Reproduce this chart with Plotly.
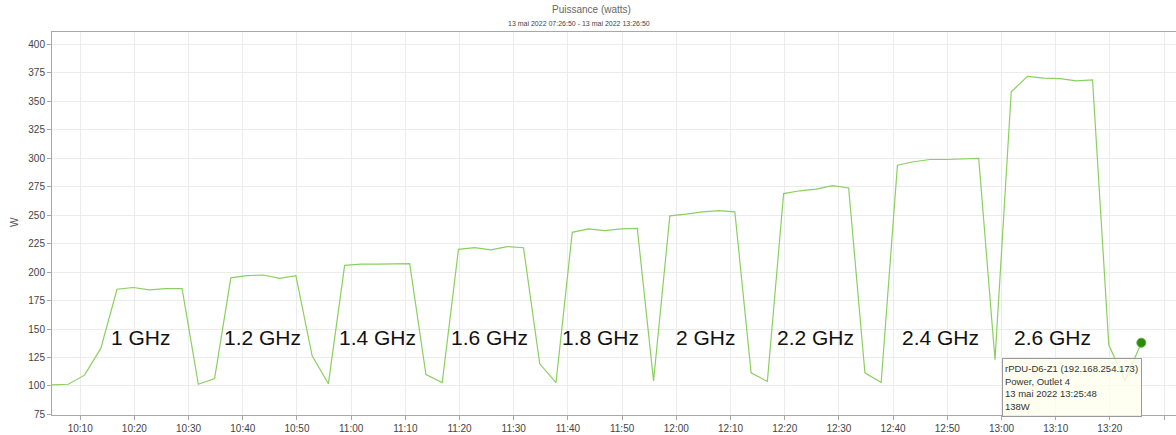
import pandas as pd
import plotly.graph_objects as go

# ---------------- data ----------------
start_time = "2022-05-13 10:04:48"
sample_step = "3min"
power_w = [
    101, 101.5, 109.5, 133, 185, 186.5, 184.5, 185.5, 185.5, 101.5,
    106.5, 195, 197, 197.5, 194.5, 197, 126.5, 102, 206, 207,
    207, 207, 207.5, 110, 103, 220, 221.5, 219.5, 222.5, 221.5,
    119.5, 103, 235, 238, 236.5, 238, 238.5, 104.5, 249.5, 251,
    253, 254, 253, 111.5, 104, 269, 271.5, 273, 276, 274,
    111.5, 103, 294, 297, 299, 299, 299.5, 300, 123, 358.5,
    372, 370.5, 370, 368, 369, 136, 104.5, 138,
]
times = pd.date_range(start_time, periods=len(power_w), freq=sample_step)

freq_labels = ["1 GHz", "1.2 GHz", "1.4 GHz", "1.6 GHz", "1.8 GHz",
               "2 GHz", "2.2 GHz", "2.4 GHz", "2.6 GHz"]
label_times = ["2022-05-13 10:21:10", "2022-05-13 10:43:40", "2022-05-13 11:04:50",
               "2022-05-13 11:25:30", "2022-05-13 11:46:00", "2022-05-13 12:05:30",
               "2022-05-13 12:25:40", "2022-05-13 12:48:40", "2022-05-13 13:09:20"]
label_level = 143

title = "Puissance (watts)"
subtitle = "13 mai 2022 07:26:50 - 13 mai 2022 13:26:50"
tooltip_lines = ["rPDU-D6-Z1 (192.168.254.173)", "Power, Outlet 4",
                 "13 mai 2022 13:25:48", "138W"]

# ---------------- figure ----------------
W, H = 1176, 435
ML, MR, MT, MB = 52, 0, 32, 20
pw, ph = W - ML - MR, H - MT - MB

def px_x(px):
    return (px - ML) / pw

def px_y(py):
    return (H - MB - py) / ph

fig = go.Figure()
fig.add_trace(go.Scatter(
    x=times, y=power_w, mode="lines",
    line=dict(color="#8ad05f", width=1.2),
    hoverinfo="skip", showlegend=False,
))
fig.add_trace(go.Scatter(
    x=[times[-1]], y=[power_w[-1]], mode="markers",
    marker=dict(color="#2b8a0c", size=9, line=dict(color="#5fae3a", width=1)),
    hoverinfo="skip", showlegend=False,
))

annotations = []
for lab, t in zip(freq_labels, label_times):
    annotations.append(dict(
        x=t, y=label_level, xref="x", yref="y", text=lab, showarrow=False,
        font=dict(family="Liberation Sans, Arial", size=21, color="#111111"),
        xanchor="center", yanchor="middle",
    ))

annotations.append(dict(
    x=px_x(591), xref="paper", y=px_y(10), yref="paper", text=title, showarrow=False,
    font=dict(family="Liberation Sans, Arial", size=10, color="#666666"),
    xanchor="center", yanchor="middle",
))
annotations.append(dict(
    x=px_x(579), xref="paper", y=px_y(23), yref="paper", text=subtitle, showarrow=False,
    font=dict(family="Liberation Sans, Arial", size=7, color="#444444"),
    xanchor="center", yanchor="middle",
))
annotations.append(dict(
    x=px_x(14), xref="paper", y=px_y(222), yref="paper", text="W", showarrow=False,
    textangle=-90,
    font=dict(family="Liberation Sans, Arial", size=10, color="#555555"),
    xanchor="center", yanchor="middle",
))
annotations.append(dict(
    x=px_x(1002), xref="paper", y=px_y(358), yref="paper",
    text="<br>".join(tooltip_lines), showarrow=False, align="left",
    font=dict(family="Liberation Sans, Arial", size=9.5, color="#333333"),
    xanchor="left", yanchor="top",
    bgcolor="rgba(255,255,238,0.8)", bordercolor="#9a9a9a", borderwidth=1,
    borderpad=2, width=134, height=53,
))

fig.update_layout(
    width=W, height=H,
    margin=dict(l=ML, r=MR, t=MT, b=MB, pad=0),
    paper_bgcolor="white", plot_bgcolor="white",
    annotations=annotations,
    font=dict(family="Liberation Sans, Arial", size=10, color="#444444"),
)
fig.update_xaxes(
    type="date",
    range=["2022-05-13 10:04:48", "2022-05-13 13:32:12"],
    tick0="2022-05-13 10:10:00", dtick=600000, tickformat="%H:%M",
    showgrid=True, gridcolor="#ececec", gridwidth=1,
    showline=True, linecolor="#a8a8a8", linewidth=1, mirror=True,
    ticks="outside", ticklen=4, tickcolor="#a8a8a8",
    tickfont=dict(size=10, color="#444444"),
    zeroline=False,
)
fig.update_yaxes(
    range=[74.5, 411], tick0=75, dtick=25,
    showgrid=True, gridcolor="#ececec", gridwidth=1,
    showline=True, linecolor="#a8a8a8", linewidth=1,
    ticks="outside", ticklen=4, tickcolor="#a8a8a8",
    tickfont=dict(size=10, color="#444444"),
    zeroline=False,
)

fig.write_html(
    "out.html",
    config={"displayModeBar": False},
    post_script="document.body.style.margin='0';document.body.style.overflow='hidden';",
)
